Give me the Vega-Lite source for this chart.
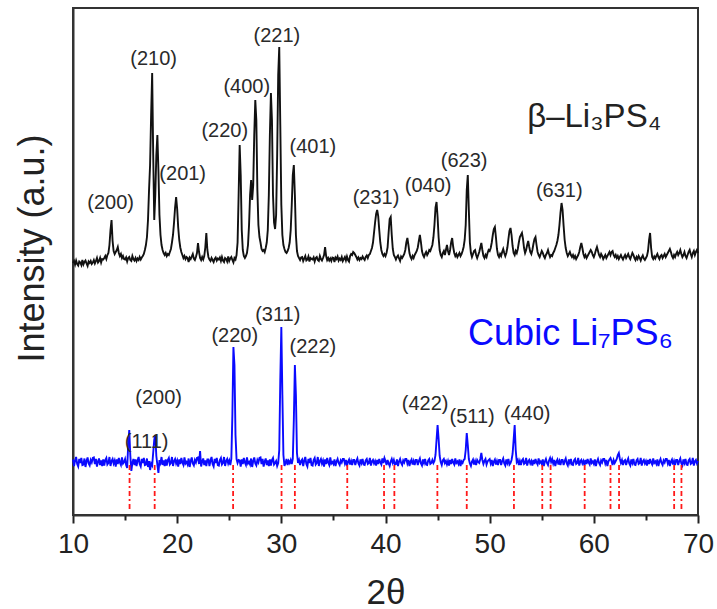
{
"$schema": "https://vega.github.io/schema/vega-lite/v6.json",
"width": 625, "height": 507,
"autosize": {"type": "none"},
"padding": {"left": 73, "top": 8, "right": 19, "bottom": 94},
"background": "white",
"config": {"view": {"stroke": "#333", "strokeWidth": 2}, "font": "Liberation Sans"},
"resolve": {"axis": {"x": "independent"}},
"datasets": {
"xrd": [
{"t":10.0,"b":504,"c":111},{"t":10.1,"b":508,"c":98},{"t":10.2,"b":501,"c":109},{"t":10.3,"b":509,"c":116},{"t":10.4,"b":502,"c":102},{"t":10.5,"b":499,"c":97},{"t":10.6,"b":507,"c":112},{"t":10.7,"b":505,"c":104},{"t":10.8,"b":500,"c":114},{"t":10.9,"b":510,"c":100},
{"t":11.0,"b":501,"c":101},{"t":11.1,"b":506,"c":113},{"t":11.2,"b":509,"c":96},{"t":11.3,"b":503,"c":108},{"t":11.4,"b":498,"c":115},{"t":11.5,"b":507,"c":103},{"t":11.6,"b":504,"c":99},{"t":11.7,"b":508,"c":110},{"t":11.8,"b":502,"c":105},{"t":11.9,"b":505,"c":114},
{"t":12.0,"b":510,"c":115},{"t":12.1,"b":503,"c":102},{"t":12.2,"b":508,"c":112},{"t":12.3,"b":514,"c":97},{"t":12.4,"b":505,"c":107},{"t":12.5,"b":508,"c":113},{"t":12.6,"b":514,"c":100},{"t":12.7,"b":505,"c":109},{"t":12.8,"b":512,"c":98},{"t":12.9,"b":511,"c":111},
{"t":13.0,"b":514,"c":99},{"t":13.1,"b":518,"c":110},{"t":13.2,"b":512,"c":114},{"t":13.3,"b":520,"c":101},{"t":13.4,"b":524,"c":104},{"t":13.5,"b":540,"c":116},{"t":13.6,"b":570,"c":98},{"t":13.7,"b":590,"c":108},{"t":13.8,"b":548,"c":112},{"t":13.9,"b":528,"c":103},
{"t":14.0,"b":522,"c":109},{"t":14.1,"b":526,"c":97},{"t":14.2,"b":530,"c":111},{"t":14.3,"b":536,"c":102},{"t":14.4,"b":524,"c":114},{"t":14.5,"b":518,"c":105},{"t":14.6,"b":522,"c":100},{"t":14.7,"b":514,"c":115},{"t":14.8,"b":518,"c":103},{"t":14.9,"b":512,"c":106},
{"t":15.0,"b":511,"c":112},{"t":15.1,"b":515,"c":100},{"t":15.2,"b":507,"c":94},{"t":15.3,"b":514,"c":140},{"t":15.4,"b":516,"c":170},{"t":15.5,"b":510,"c":120},{"t":15.6,"b":508,"c":88},{"t":15.7,"b":518,"c":104},{"t":15.8,"b":512,"c":112},{"t":15.9,"b":509,"c":100},
{"t":16.0,"b":514,"c":111},{"t":16.1,"b":508,"c":98},{"t":16.2,"b":513,"c":109},{"t":16.3,"b":510,"c":116},{"t":16.4,"b":516,"c":102},{"t":16.5,"b":511,"c":97},{"t":16.6,"b":515,"c":112},{"t":16.7,"b":518,"c":104},{"t":16.8,"b":522,"c":114},{"t":16.9,"b":530,"c":100},
{"t":17.0,"b":540,"c":101},{"t":17.1,"b":556,"c":113},{"t":17.2,"b":590,"c":96},{"t":17.3,"b":650,"c":108},{"t":17.4,"b":700,"c":90},{"t":17.5,"b":800,"c":103},{"t":17.6,"b":884,"c":99},{"t":17.7,"b":720,"c":125},{"t":17.8,"b":590,"c":150},{"t":17.9,"b":640,"c":160},
{"t":18.0,"b":720,"c":118},{"t":18.1,"b":760,"c":100},{"t":18.2,"b":690,"c":84},{"t":18.3,"b":600,"c":110},{"t":18.4,"b":560,"c":104},{"t":18.5,"b":540,"c":116},{"t":18.6,"b":530,"c":100},{"t":18.7,"b":524,"c":109},{"t":18.8,"b":520,"c":98},{"t":18.9,"b":524,"c":111},
{"t":19.0,"b":518,"c":99},{"t":19.1,"b":522,"c":110},{"t":19.2,"b":520,"c":114},{"t":19.3,"b":526,"c":101},{"t":19.4,"b":532,"c":104},{"t":19.5,"b":545,"c":116},{"t":19.6,"b":560,"c":98},{"t":19.7,"b":585,"c":108},{"t":19.8,"b":615,"c":112},{"t":19.9,"b":636,"c":103},
{"t":20.0,"b":612,"c":109},{"t":20.1,"b":575,"c":97},{"t":20.2,"b":550,"c":111},{"t":20.3,"b":535,"c":102},{"t":20.4,"b":526,"c":114},{"t":20.5,"b":520,"c":105},{"t":20.6,"b":514,"c":100},{"t":20.7,"b":518,"c":115},{"t":20.8,"b":512,"c":103},{"t":20.9,"b":516,"c":106},
{"t":21.0,"b":514,"c":101},{"t":21.1,"b":506,"c":113},{"t":21.2,"b":515,"c":96},{"t":21.3,"b":512,"c":108},{"t":21.4,"b":517,"c":115},{"t":21.5,"b":522,"c":103},{"t":21.6,"b":513,"c":99},{"t":21.7,"b":510,"c":110},{"t":21.8,"b":516,"c":105},{"t":21.9,"b":524,"c":114},
{"t":22.0,"b":544,"c":115},{"t":22.1,"b":526,"c":102},{"t":22.2,"b":514,"c":128},{"t":22.3,"b":510,"c":97},{"t":22.4,"b":516,"c":107},{"t":22.5,"b":511,"c":113},{"t":22.6,"b":518,"c":100},{"t":22.7,"b":535,"c":109},{"t":22.8,"b":564,"c":98},{"t":22.9,"b":530,"c":111},
{"t":23.0,"b":516,"c":111},{"t":23.1,"b":511,"c":98},{"t":23.2,"b":508,"c":109},{"t":23.3,"b":514,"c":116},{"t":23.4,"b":510,"c":102},{"t":23.5,"b":506,"c":97},{"t":23.6,"b":512,"c":112},{"t":23.7,"b":515,"c":104},{"t":23.8,"b":509,"c":114},{"t":23.9,"b":513,"c":100},
{"t":24.0,"b":511,"c":99},{"t":24.1,"b":515,"c":110},{"t":24.2,"b":508,"c":114},{"t":24.3,"b":516,"c":101},{"t":24.4,"b":509,"c":104},{"t":24.5,"b":506,"c":116},{"t":24.6,"b":514,"c":98},{"t":24.7,"b":512,"c":108},{"t":24.8,"b":507,"c":112},{"t":24.9,"b":517,"c":103},
{"t":25.0,"b":508,"c":109},{"t":25.1,"b":513,"c":100},{"t":25.2,"b":516,"c":112},{"t":25.3,"b":510,"c":200},{"t":25.4,"b":505,"c":336},{"t":25.5,"b":514,"c":300},{"t":25.6,"b":511,"c":160},{"t":25.7,"b":520,"c":112},{"t":25.8,"b":545,"c":104},{"t":25.9,"b":640,"c":110},
{"t":26.0,"b":740,"c":109},{"t":26.1,"b":680,"c":97},{"t":26.2,"b":570,"c":111},{"t":26.3,"b":530,"c":102},{"t":26.4,"b":518,"c":114},{"t":26.5,"b":514,"c":105},{"t":26.6,"b":518,"c":100},{"t":26.7,"b":524,"c":115},{"t":26.8,"b":540,"c":103},{"t":26.9,"b":580,"c":106},
{"t":27.0,"b":640,"c":101},{"t":27.1,"b":670,"c":113},{"t":27.2,"b":630,"c":96},{"t":27.3,"b":660,"c":108},{"t":27.4,"b":760,"c":115},{"t":27.5,"b":830,"c":103},{"t":27.6,"b":790,"c":99},{"t":27.7,"b":650,"c":110},{"t":27.8,"b":580,"c":105},{"t":27.9,"b":556,"c":114},
{"t":28.0,"b":545,"c":115},{"t":28.1,"b":532,"c":102},{"t":28.2,"b":528,"c":112},{"t":28.3,"b":530,"c":97},{"t":28.4,"b":526,"c":107},{"t":28.5,"b":534,"c":113},{"t":28.6,"b":545,"c":100},{"t":28.7,"b":570,"c":109},{"t":28.8,"b":640,"c":98},{"t":28.9,"b":760,"c":111},
{"t":29.0,"b":844,"c":99},{"t":29.1,"b":790,"c":110},{"t":29.2,"b":640,"c":114},{"t":29.3,"b":585,"c":101},{"t":29.4,"b":572,"c":104},{"t":29.5,"b":600,"c":108},{"t":29.6,"b":720,"c":98},{"t":29.7,"b":880,"c":104},{"t":29.8,"b":936,"c":130},{"t":29.9,"b":780,"c":270},
{"t":30.0,"b":620,"c":376},{"t":30.1,"b":560,"c":240},{"t":30.2,"b":540,"c":120},{"t":30.3,"b":532,"c":98},{"t":30.4,"b":526,"c":104},{"t":30.5,"b":524,"c":112},{"t":30.6,"b":528,"c":100},{"t":30.7,"b":534,"c":108},{"t":30.8,"b":545,"c":104},{"t":30.9,"b":570,"c":110},
{"t":31.0,"b":620,"c":102},{"t":31.1,"b":680,"c":112},{"t":31.2,"b":700,"c":190},{"t":31.3,"b":640,"c":300},{"t":31.4,"b":560,"c":240},{"t":31.5,"b":528,"c":124},{"t":31.6,"b":518,"c":104},{"t":31.7,"b":514,"c":110},{"t":31.8,"b":510,"c":100},{"t":31.9,"b":515,"c":108},
{"t":32.0,"b":516,"c":111},{"t":32.1,"b":508,"c":98},{"t":32.2,"b":513,"c":109},{"t":32.3,"b":518,"c":116},{"t":32.4,"b":509,"c":102},{"t":32.5,"b":511,"c":97},{"t":32.6,"b":517,"c":112},{"t":32.7,"b":507,"c":104},{"t":32.8,"b":514,"c":114},{"t":32.9,"b":512,"c":100},
{"t":33.0,"b":511,"c":99},{"t":33.1,"b":515,"c":110},{"t":33.2,"b":507,"c":114},{"t":33.3,"b":514,"c":101},{"t":33.4,"b":516,"c":104},{"t":33.5,"b":510,"c":116},{"t":33.6,"b":508,"c":98},{"t":33.7,"b":518,"c":108},{"t":33.8,"b":512,"c":112},{"t":33.9,"b":509,"c":103},
{"t":34.0,"b":514,"c":109},{"t":34.1,"b":520,"c":97},{"t":34.2,"b":536,"c":111},{"t":34.3,"b":518,"c":102},{"t":34.4,"b":510,"c":114},{"t":34.5,"b":514,"c":105},{"t":34.6,"b":509,"c":100},{"t":34.7,"b":513,"c":115},{"t":34.8,"b":508,"c":103},{"t":34.9,"b":515,"c":106},
{"t":35.0,"b":514,"c":102},{"t":35.1,"b":506,"c":111},{"t":35.2,"b":515,"c":98},{"t":35.3,"b":512,"c":107},{"t":35.4,"b":517,"c":112},{"t":35.5,"b":509,"c":104},{"t":35.6,"b":513,"c":100},{"t":35.7,"b":510,"c":109},{"t":35.8,"b":516,"c":105},{"t":35.9,"b":508,"c":112},
{"t":36.0,"b":512,"c":112},{"t":36.1,"b":516,"c":103},{"t":36.2,"b":509,"c":110},{"t":36.3,"b":517,"c":98},{"t":36.4,"b":510,"c":107},{"t":36.5,"b":507,"c":111},{"t":36.6,"b":518,"c":101},{"t":36.7,"b":522,"c":108},{"t":36.8,"b":520,"c":100},{"t":36.9,"b":526,"c":110},
{"t":37.0,"b":524,"c":110},{"t":37.1,"b":520,"c":100},{"t":37.2,"b":516,"c":108},{"t":37.3,"b":511,"c":113},{"t":37.4,"b":515,"c":103},{"t":37.5,"b":510,"c":99},{"t":37.6,"b":514,"c":111},{"t":37.7,"b":512,"c":104},{"t":37.8,"b":517,"c":112},{"t":37.9,"b":513,"c":101},
{"t":38.0,"b":510,"c":100},{"t":38.1,"b":516,"c":109},{"t":38.2,"b":519,"c":112},{"t":38.3,"b":514,"c":102},{"t":38.4,"b":520,"c":104},{"t":38.5,"b":522,"c":114},{"t":38.6,"b":528,"c":99},{"t":38.7,"b":534,"c":107},{"t":38.8,"b":545,"c":110},{"t":38.9,"b":565,"c":103},
{"t":39.0,"b":585,"c":108},{"t":39.1,"b":602,"c":99},{"t":39.2,"b":610,"c":110},{"t":39.3,"b":598,"c":102},{"t":39.4,"b":570,"c":112},{"t":39.5,"b":545,"c":105},{"t":39.6,"b":530,"c":101},{"t":39.7,"b":522,"c":113},{"t":39.8,"b":518,"c":104},{"t":39.9,"b":522,"c":114},
{"t":40.0,"b":518,"c":108},{"t":40.1,"b":524,"c":100},{"t":40.2,"b":535,"c":110},{"t":40.3,"b":565,"c":103},{"t":40.4,"b":592,"c":98},{"t":40.5,"b":596,"c":107},{"t":40.6,"b":560,"c":112},{"t":40.7,"b":532,"c":104},{"t":40.8,"b":520,"c":110},{"t":40.9,"b":516,"c":101},
{"t":41.0,"b":511,"c":102},{"t":41.1,"b":516,"c":111},{"t":41.2,"b":519,"c":98},{"t":41.3,"b":513,"c":107},{"t":41.4,"b":508,"c":112},{"t":41.5,"b":517,"c":104},{"t":41.6,"b":514,"c":100},{"t":41.7,"b":518,"c":109},{"t":41.8,"b":522,"c":105},{"t":41.9,"b":530,"c":112},
{"t":42.0,"b":545,"c":112},{"t":42.1,"b":554,"c":103},{"t":42.2,"b":540,"c":110},{"t":42.3,"b":524,"c":98},{"t":42.4,"b":516,"c":107},{"t":42.5,"b":512,"c":111},{"t":42.6,"b":518,"c":101},{"t":42.7,"b":514,"c":108},{"t":42.8,"b":520,"c":100},{"t":42.9,"b":524,"c":110},
{"t":43.0,"b":528,"c":110},{"t":43.1,"b":535,"c":100},{"t":43.2,"b":548,"c":108},{"t":43.3,"b":560,"c":113},{"t":43.4,"b":546,"c":103},{"t":43.5,"b":528,"c":99},{"t":43.6,"b":520,"c":111},{"t":43.7,"b":516,"c":104},{"t":43.8,"b":522,"c":112},{"t":43.9,"b":526,"c":101},
{"t":44.0,"b":520,"c":100},{"t":44.1,"b":524,"c":109},{"t":44.2,"b":530,"c":112},{"t":44.3,"b":528,"c":102},{"t":44.4,"b":534,"c":104},{"t":44.5,"b":540,"c":110},{"t":44.6,"b":555,"c":104},{"t":44.7,"b":580,"c":108},{"t":44.8,"b":615,"c":120},{"t":44.9,"b":626,"c":150},
{"t":45.0,"b":596,"c":180},{"t":45.1,"b":555,"c":152},{"t":45.2,"b":530,"c":118},{"t":45.3,"b":520,"c":106},{"t":45.4,"b":516,"c":100},{"t":45.5,"b":524,"c":109},{"t":45.6,"b":528,"c":112},{"t":45.7,"b":520,"c":104},{"t":45.8,"b":530,"c":108},{"t":45.9,"b":540,"c":101},
{"t":46.0,"b":528,"c":108},{"t":46.1,"b":520,"c":99},{"t":46.2,"b":530,"c":110},{"t":46.3,"b":545,"c":102},{"t":46.4,"b":554,"c":112},{"t":46.5,"b":536,"c":105},{"t":46.6,"b":524,"c":101},{"t":46.7,"b":518,"c":113},{"t":46.8,"b":522,"c":104},{"t":46.9,"b":516,"c":107},
{"t":47.0,"b":520,"c":102},{"t":47.1,"b":524,"c":111},{"t":47.2,"b":518,"c":98},{"t":47.3,"b":522,"c":107},{"t":47.4,"b":528,"c":104},{"t":47.5,"b":536,"c":110},{"t":47.6,"b":550,"c":112},{"t":47.7,"b":580,"c":130},{"t":47.8,"b":650,"c":164},{"t":47.9,"b":680,"c":140},
{"t":48.0,"b":610,"c":112},{"t":48.1,"b":545,"c":103},{"t":48.2,"b":524,"c":98},{"t":48.3,"b":516,"c":107},{"t":48.4,"b":522,"c":111},{"t":48.5,"b":528,"c":101},{"t":48.6,"b":530,"c":108},{"t":48.7,"b":520,"c":100},{"t":48.8,"b":514,"c":110},{"t":48.9,"b":520,"c":106},
{"t":49.0,"b":526,"c":104},{"t":49.1,"b":535,"c":112},{"t":49.2,"b":544,"c":124},{"t":49.3,"b":530,"c":110},{"t":49.4,"b":518,"c":102},{"t":49.5,"b":514,"c":108},{"t":49.6,"b":520,"c":112},{"t":49.7,"b":516,"c":101},{"t":49.8,"b":524,"c":107},{"t":49.9,"b":530,"c":110},
{"t":50.0,"b":528,"c":112},{"t":50.1,"b":534,"c":103},{"t":50.2,"b":545,"c":110},{"t":50.3,"b":560,"c":98},{"t":50.4,"b":572,"c":107},{"t":50.5,"b":576,"c":111},{"t":50.6,"b":556,"c":101},{"t":50.7,"b":532,"c":108},{"t":50.8,"b":520,"c":100},{"t":50.9,"b":516,"c":110},
{"t":51.0,"b":522,"c":110},{"t":51.1,"b":518,"c":100},{"t":51.2,"b":526,"c":108},{"t":51.3,"b":532,"c":113},{"t":51.4,"b":524,"c":103},{"t":51.5,"b":518,"c":99},{"t":51.6,"b":524,"c":111},{"t":51.7,"b":535,"c":104},{"t":51.8,"b":552,"c":112},{"t":51.9,"b":568,"c":101},
{"t":52.0,"b":574,"c":104},{"t":52.1,"b":560,"c":110},{"t":52.2,"b":538,"c":122},{"t":52.3,"b":524,"c":150},{"t":52.4,"b":520,"c":180},{"t":52.5,"b":528,"c":130},{"t":52.6,"b":524,"c":106},{"t":52.7,"b":532,"c":110},{"t":52.8,"b":545,"c":100},{"t":52.9,"b":556,"c":108},
{"t":53.0,"b":560,"c":100},{"t":53.1,"b":564,"c":109},{"t":53.2,"b":552,"c":112},{"t":53.3,"b":534,"c":102},{"t":53.4,"b":524,"c":104},{"t":53.5,"b":530,"c":114},{"t":53.6,"b":540,"c":99},{"t":53.7,"b":548,"c":107},{"t":53.8,"b":536,"c":110},{"t":53.9,"b":526,"c":103},
{"t":54.0,"b":522,"c":108},{"t":54.1,"b":530,"c":99},{"t":54.2,"b":542,"c":110},{"t":54.3,"b":552,"c":102},{"t":54.4,"b":556,"c":112},{"t":54.5,"b":540,"c":105},{"t":54.6,"b":526,"c":101},{"t":54.7,"b":520,"c":113},{"t":54.8,"b":516,"c":104},{"t":54.9,"b":522,"c":107},
{"t":55.0,"b":528,"c":102},{"t":55.1,"b":524,"c":111},{"t":55.2,"b":518,"c":98},{"t":55.3,"b":514,"c":107},{"t":55.4,"b":520,"c":112},{"t":55.5,"b":524,"c":104},{"t":55.6,"b":530,"c":100},{"t":55.7,"b":522,"c":109},{"t":55.8,"b":516,"c":114},{"t":55.9,"b":520,"c":106},
{"t":56.0,"b":518,"c":112},{"t":56.1,"b":524,"c":103},{"t":56.2,"b":528,"c":110},{"t":56.3,"b":534,"c":98},{"t":56.4,"b":540,"c":107},{"t":56.5,"b":548,"c":111},{"t":56.6,"b":560,"c":101},{"t":56.7,"b":580,"c":108},{"t":56.8,"b":605,"c":100},{"t":56.9,"b":624,"c":110},
{"t":57.0,"b":610,"c":110},{"t":57.1,"b":578,"c":100},{"t":57.2,"b":550,"c":108},{"t":57.3,"b":534,"c":113},{"t":57.4,"b":524,"c":103},{"t":57.5,"b":518,"c":99},{"t":57.6,"b":522,"c":111},{"t":57.7,"b":526,"c":104},{"t":57.8,"b":520,"c":112},{"t":57.9,"b":516,"c":101},
{"t":58.0,"b":520,"c":100},{"t":58.1,"b":514,"c":109},{"t":58.2,"b":518,"c":112},{"t":58.3,"b":512,"c":102},{"t":58.4,"b":516,"c":104},{"t":58.5,"b":520,"c":114},{"t":58.6,"b":526,"c":99},{"t":58.7,"b":536,"c":107},{"t":58.8,"b":544,"c":110},{"t":58.9,"b":534,"c":103},
{"t":59.0,"b":522,"c":108},{"t":59.1,"b":516,"c":99},{"t":59.2,"b":520,"c":110},{"t":59.3,"b":514,"c":102},{"t":59.4,"b":518,"c":112},{"t":59.5,"b":522,"c":105},{"t":59.6,"b":526,"c":101},{"t":59.7,"b":530,"c":113},{"t":59.8,"b":526,"c":104},{"t":59.9,"b":520,"c":107},
{"t":60.0,"b":516,"c":102},{"t":60.1,"b":522,"c":111},{"t":60.2,"b":530,"c":98},{"t":60.3,"b":536,"c":107},{"t":60.4,"b":528,"c":112},{"t":60.5,"b":520,"c":104},{"t":60.6,"b":516,"c":100},{"t":60.7,"b":522,"c":109},{"t":60.8,"b":518,"c":105},{"t":60.9,"b":512,"c":112},
{"t":61.0,"b":516,"c":112},{"t":61.1,"b":520,"c":103},{"t":61.2,"b":514,"c":110},{"t":61.3,"b":518,"c":98},{"t":61.4,"b":522,"c":107},{"t":61.5,"b":526,"c":111},{"t":61.6,"b":520,"c":114},{"t":61.7,"b":526,"c":108},{"t":61.8,"b":528,"c":100},{"t":61.9,"b":520,"c":110},
{"t":62.0,"b":516,"c":104},{"t":62.1,"b":520,"c":108},{"t":62.2,"b":514,"c":112},{"t":62.3,"b":518,"c":120},{"t":62.4,"b":512,"c":124},{"t":62.5,"b":516,"c":112},{"t":62.6,"b":520,"c":104},{"t":62.7,"b":515,"c":110},{"t":62.8,"b":511,"c":100},{"t":62.9,"b":516,"c":108},
{"t":63.0,"b":520,"c":110},{"t":63.1,"b":514,"c":100},{"t":63.2,"b":518,"c":108},{"t":63.3,"b":522,"c":113},{"t":63.4,"b":516,"c":103},{"t":63.5,"b":512,"c":99},{"t":63.6,"b":518,"c":111},{"t":63.7,"b":524,"c":104},{"t":63.8,"b":520,"c":112},{"t":63.9,"b":514,"c":101},
{"t":64.0,"b":510,"c":100},{"t":64.1,"b":516,"c":109},{"t":64.2,"b":512,"c":112},{"t":64.3,"b":518,"c":102},{"t":64.4,"b":514,"c":104},{"t":64.5,"b":509,"c":114},{"t":64.6,"b":515,"c":99},{"t":64.7,"b":519,"c":107},{"t":64.8,"b":513,"c":110},{"t":64.9,"b":510,"c":103},
{"t":65.0,"b":514,"c":108},{"t":65.1,"b":518,"c":99},{"t":65.2,"b":528,"c":110},{"t":65.3,"b":550,"c":102},{"t":65.4,"b":564,"c":112},{"t":65.5,"b":534,"c":105},{"t":65.6,"b":516,"c":101},{"t":65.7,"b":512,"c":113},{"t":65.8,"b":517,"c":104},{"t":65.9,"b":513,"c":107},
{"t":66.0,"b":518,"c":102},{"t":66.1,"b":522,"c":111},{"t":66.2,"b":516,"c":98},{"t":66.3,"b":512,"c":107},{"t":66.4,"b":518,"c":112},{"t":66.5,"b":520,"c":104},{"t":66.6,"b":514,"c":100},{"t":66.7,"b":518,"c":109},{"t":66.8,"b":522,"c":105},{"t":66.9,"b":516,"c":112},
{"t":67.0,"b":520,"c":112},{"t":67.1,"b":524,"c":103},{"t":67.2,"b":528,"c":110},{"t":67.3,"b":532,"c":98},{"t":67.4,"b":526,"c":107},{"t":67.5,"b":518,"c":111},{"t":67.6,"b":514,"c":101},{"t":67.7,"b":520,"c":108},{"t":67.8,"b":516,"c":100},{"t":67.9,"b":522,"c":110},
{"t":68.0,"b":526,"c":110},{"t":68.1,"b":520,"c":100},{"t":68.2,"b":524,"c":108},{"t":68.3,"b":530,"c":113},{"t":68.4,"b":522,"c":103},{"t":68.5,"b":516,"c":99},{"t":68.6,"b":520,"c":111},{"t":68.7,"b":526,"c":104},{"t":68.8,"b":518,"c":112},{"t":68.9,"b":514,"c":101},
{"t":69.0,"b":520,"c":100},{"t":69.1,"b":526,"c":109},{"t":69.2,"b":530,"c":112},{"t":69.3,"b":522,"c":102},{"t":69.4,"b":516,"c":104},{"t":69.5,"b":524,"c":114},{"t":69.6,"b":528,"c":99},{"t":69.7,"b":520,"c":107},{"t":69.8,"b":526,"c":110},{"t":69.9,"b":530,"c":103},
{"t":70.0,"b":524,"c":108}
],
"ref": [{"p":15.43},{"p":17.84},{"p":25.37},{"p":30.02},{"p":31.3},{"p":36.33},{"p":39.86},{"p":40.85},{"p":44.98},{"p":47.8},{"p":52.33},{"p":55.05},{"p":55.85},{"p":59.12},{"p":61.6},{"p":62.42},{"p":67.71},{"p":68.41}],
"hkl": [
{"t":13.61,"v":612,"label":"(200)"},{"t":17.74,"v":900,"label":"(210)"},{"t":20.53,"v":670,"label":"(201)"},{"t":24.57,"v":756,"label":"(220)"},{"t":26.68,"v":844,"label":"(400)"},{"t":29.57,"v":946,"label":"(221)"},{"t":33.03,"v":724,"label":"(401)"},{"t":39.09,"v":622,"label":"(231)"},{"t":44.09,"v":646,"label":"(040)"},{"t":47.55,"v":696,"label":"(623)"},{"t":56.68,"v":636,"label":"(631)"},
{"t":17.07,"v":134,"label":"(111)"},{"t":18.22,"v":222,"label":"(200)"},{"t":25.53,"v":346,"label":"(220)"},{"t":29.66,"v":388,"label":"(311)"},{"t":33.03,"v":324,"label":"(222)"},{"t":43.8,"v":210,"label":"(422)"},{"t":48.32,"v":184,"label":"(511)"},{"t":53.6,"v":190,"label":"(440)"}
]
},
"layer": [
{"data": {"name": "xrd"},
 "mark": {"type": "line", "color": "#111111", "strokeWidth": 1.9},
 "encoding": {
  "x": {"field": "t", "type": "quantitative", "scale": {"domain": [10, 70], "nice": false, "zero": false},
   "axis": {"orient": "bottom", "values": [10,20,30,40,50,60,70], "tickSize": 8, "ticks": true,
    "tickColor": "#222", "tickWidth": 2, "domainColor": "#333", "domainWidth": 2,
    "labelFontSize": 28, "labelColor": "#222", "labelPadding": 7, "labelFlush": false, "labelOverlap": false, "labelFont": "Liberation Sans",
    "grid": false, "title": "2θ", "titleFontSize": 35, "titleFontWeight": "normal", "titleColor": "#222", "titleFont": "Liberation Sans",
    "titleBaseline": "alphabetic", "titleY": 88}},
  "y": {"field": "b", "type": "quantitative", "scale": {"domain": [0, 1014], "nice": false, "zero": false},
   "axis": {"ticks": false, "labels": false, "grid": false, "domainColor": "#333", "domainWidth": 2,
    "title": "Intensity (a.u.)", "titleFontSize": 36, "titleFontWeight": "normal", "titleColor": "#222", "titleFont": "Liberation Sans",
    "titlePadding": 22, "titleY": 240}}
 }},
{"data": {"name": "xrd"},
 "mark": {"type": "line", "color": "#0a0aff", "strokeWidth": 1.9},
 "encoding": {"x": {"field": "t", "type": "quantitative", "axis": null}, "y": {"field": "c", "type": "quantitative"}}},
{"data": {"name": "ref"},
 "mark": {"type": "rule", "color": "#ff1a1a", "strokeWidth": 1.8, "strokeDash": [5, 3, 2, 3]},
 "encoding": {"x": {"field": "p", "type": "quantitative",
   "axis": {"orient": "bottom", "values": [15,25,35,45,55,65], "tickSize": 5, "ticks": true, "tickColor": "#222", "tickWidth": 2,
    "labels": false, "domain": false, "grid": false, "title": null}},
  "y": {"datum": 100}, "y2": {"datum": 8}}},
{"data": {"name": "hkl"},
 "mark": {"type": "text", "fontSize": 20, "color": "#2a2a2a", "align": "center", "baseline": "alphabetic", "font": "Liberation Sans"},
 "encoding": {"x": {"field": "t", "type": "quantitative", "axis": null}, "y": {"field": "v", "type": "quantitative"}, "text": {"field": "label"}}},
{"data": {"values": [{"t": 53.6, "v": 776, "label": "β–Li₃PS₄"}]},
 "mark": {"type": "text", "fontSize": 33, "color": "#222", "align": "left", "baseline": "alphabetic", "font": "Liberation Sans"},
 "encoding": {"x": {"field": "t", "type": "quantitative", "axis": null}, "y": {"field": "v", "type": "quantitative"}, "text": {"field": "label"}}},
{"data": {"values": [{"t": 47.93, "v": 340, "label": "Cubic Li₇PS₆"}]},
 "mark": {"type": "text", "fontSize": 36, "color": "#0a0aff", "align": "left", "baseline": "alphabetic", "font": "Liberation Sans"},
 "encoding": {"x": {"field": "t", "type": "quantitative", "axis": null}, "y": {"field": "v", "type": "quantitative"}, "text": {"field": "label"}}}
]
}
